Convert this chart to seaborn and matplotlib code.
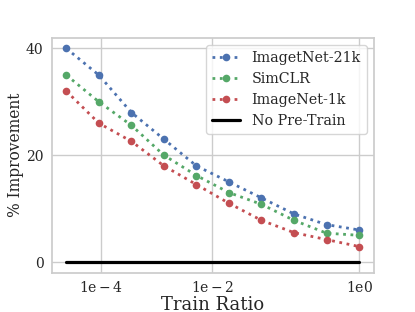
import numpy as np
import pandas as pd
import seaborn as sns
import matplotlib.pyplot as plt

# train ratio steps (equally spaced on the axis)
ratio_step = list(range(10))
imagenet21k = [40, 35, 28, 23, 18, 15, 12, 9, 7, 6]
simclr = [35, 30, 25.6, 20, 16.2, 13, 10.8, 7.8, 5.4, 5]
imagenet1k = [32, 26, 22.6, 18, 14.5, 11, 7.8, 5.5, 4.2, 2.9]
no_pretrain = [0] * 10

x_tick_labels = [r"$\mathregular{1e-4}$", r"$\mathregular{1e-2}$", r"$\mathregular{1e0}$"]
y_ticks = [0, 20, 40]

sns.set_theme(style="whitegrid")
plt.rcParams['font.family'] = ['DejaVu Serif']
plt.rcParams['mathtext.fontset'] = 'dejavuserif'

fig, ax = plt.subplots(1, 1, figsize=(4.15, 3.12), dpi=100)

pal = sns.color_palette("deep")
series = [("ImagetNet-21k", imagenet21k, pal[0]),
          ("SimCLR", simclr, pal[2]),
          ("ImageNet-1k", imagenet1k, pal[3])]

for name, vals, col in series:
    sns.lineplot(x=ratio_step, y=vals, ax=ax, color=col, linestyle=':', lw=2.0,
                 marker='o', markersize=5.5, markeredgewidth=0, label=name)

sns.lineplot(x=ratio_step, y=no_pretrain, ax=ax, color='black', lw=2.3, label="No Pre-Train")

ax.set_xticks([1.07, 4.49, 9])
ax.set_xticklabels(x_tick_labels)
ax.set_yticks(y_ticks)
ax.tick_params(axis='both', length=0, labelsize=10)
ax.tick_params(axis='x', pad=5)
ax.tick_params(axis='y', pad=6)
ax.set_xlabel("Train Ratio", fontsize=13, labelpad=1)
ax.set_ylabel("% Improvement", fontsize=11.2, labelpad=1.5)

legend = ax.legend(loc='upper right', fontsize=10.3, labelspacing=0.5)

plt.subplots_adjust(left=0.1246, right=0.9005, bottom=0.126, top=0.879)
fig.savefig("out.png")
